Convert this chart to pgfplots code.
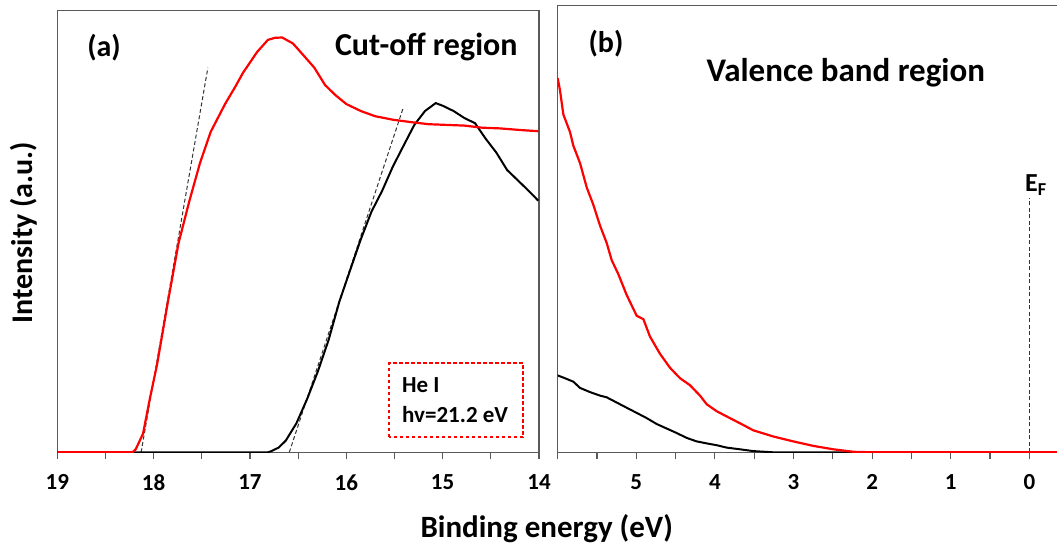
\documentclass[border=0pt]{standalone}
\usepackage{fontspec}
\setmainfont{Carlito}
\usepackage{pgfplots}
\pgfplotsset{compat=1.18}
\usepackage{pgfplotstable}

% (a) cut-off region, red sample
\pgfplotstableread{
E I
19.00 0
18.22 0
18.186 3
18.11 18.6
18.04 53.3
17.964 88
17.852 150.4
17.741 209.4
17.63 251
17.519 289.2
17.408 320.4
17.259 348.2
17.15 366
17.073 379.4
16.926 400.3
16.814 412.4
16.74 414.5
16.666 414.8
16.555 408.9
16.443 396.8
16.332 384.6
16.221 367.3
16.11 356.9
15.999 348.2
15.85 341.3
15.702 336.1
15.517 332.6
15.332 330.2
15.146 328.1
14.961 327.4
14.775 326.7
14.59 324.6
14.405 323.9
14.183 322.2
14.008 321.1
}\redA

% (a) cut-off region, black sample
\pgfplotstableread{
E I
19.00 0
16.814 0
16.778 1.2
16.703 4.7
16.629 11.6
16.518 29
16.407 53.3
16.295 81
16.184 112.3
16.073 150.4
15.962 181.7
15.85 212.9
15.739 240.6
15.628 261.5
15.517 285.7
15.406 306.6
15.294 327.4
15.183 341.3
15.072 349.2
14.998 346.5
14.887 341.3
14.775 334.3
14.664 329.1
14.553 313.5
14.442 299.6
14.331 282.3
14.219 271.9
14.108 261.5
14.008 251.7
}\blackA

% (b) valence band region, red sample
\pgfplotstableread{
E I
6.0 374.2
5.971 362.1
5.928 337.8
5.844 320.4
5.801 306.6
5.716 289.2
5.631 264.9
5.547 247.6
5.462 226.8
5.377 209.4
5.313 192.1
5.229 178.2
5.123 157.4
4.995 136.5
4.91 133.1
4.826 115.7
4.698 98.4
4.571 84.5
4.444 74.1
4.317 67.1
4.19 56.7
4.105 48.1
3.978 41.1
3.851 35.9
3.681 29
3.512 22
3.257 15.8
3.003 10.9
2.748 6.4
2.494 3
2.239 0.5
1.985 0
-0.6 0
}\redB

% (b) valence band region, black sample
\pgfplotstableread{
E I
6.0 76.9
5.886 73.4
5.801 70.6
5.716 64.4
5.589 60.2
5.462 56.7
5.377 55
5.25 49.8
5.123 44.6
4.995 39.4
4.868 34.2
4.741 28.3
4.614 23.8
4.487 19.3
4.359 14.4
4.232 10.9
4.105 8.9
3.978 7.1
3.851 4.7
3.681 3
3.512 1.2
3.257 0
1.9 0
}\blackB

\definecolor{spine}{RGB}{90,90,90}

\begin{document}
\begin{tikzpicture}[x=1pt,y=1pt]
\pgfplotsset{
  panel/.style={
    scale only axis, x dir=reverse, ymin=0, ytick=\empty,
    tick pos=bottom, tick align=outside,
    major tick length=7pt, minor tick length=7pt,
    axis line style={spine, line width=1.1pt},
    every tick/.style={spine, line width=1.1pt},
    tick label style={font=\fontsize{23}{23}\selectfont\bfseries},
    xticklabel style={yshift=-12pt},
    /pgf/number format/assume math mode=true,
  },
  tangent/.style={black!80, line width=1pt, dash pattern=on 4pt off 2.5pt},
}

\begin{axis}[panel, at={(57.3pt,91.7pt)}, anchor=south west,
  width=481.7pt, height=441.6pt,
  xmin=14, xmax=19, ymax=441.6,
  xtick={14,...,19}, minor xtick={14.5,15.5,...,18.5}]
\addplot[tangent] coordinates {(18.13,0) (17.437,384.6)};
\addplot[tangent] coordinates {(16.592,0) (15.406,345.4)};
\addplot[black, line width=2pt] table {\blackA};
\addplot[red, line width=2.2pt] table {\redA};
\end{axis}

\begin{axis}[panel, at={(557.7pt,91.7pt)}, anchor=south west,
  width=518.8pt, height=446.6pt,
  xmin=-0.6, xmax=6, ymax=446.6,
  xtick={0,...,6}, xticklabels={0,1,2,3,4,5,{}},
  minor xtick={-0.5,0.5,...,5.5}]
\addplot[black!80, line width=1pt, dash pattern=on 4pt off 2.5pt] coordinates {(0,0) (0,254.3)};
\addplot[black, line width=2pt] table {\blackB};
\addplot[red, line width=2.2pt] table {\redB};
\end{axis}

% panel texts
\node[font=\fontsize{30}{30}\selectfont\bfseries] at (104,496.3) {(a)};
\node[font=\fontsize{32}{32}\selectfont\bfseries, anchor=base east] at (521,488.5) {Cut-off region};
\node[font=\fontsize{30}{30}\selectfont\bfseries] at (606,500.6) {(b)};
\node[font=\fontsize{33}{33}\selectfont\bfseries, anchor=base] at (845.8,462.5) {Valence band region};
\node[font=\fontsize{26}{26}\selectfont\bfseries, anchor=base west, inner sep=0pt] at (1025,352) {E\textsubscript{F}};

% He I box
\draw[draw=red, line width=1.3pt, dash pattern=on 3.5pt off 2.5pt] (389,107) rectangle (523,181);
\node[font=\fontsize{23}{23}\selectfont\bfseries, anchor=base west, inner sep=0pt] at (402,152) {He I};
\node[font=\fontsize{23}{23}\selectfont\bfseries, anchor=base west, inner sep=0pt] at (402,122) {hv=21.2 eV};

% axis labels
\node[font=\fontsize{30}{30}\selectfont\bfseries, rotate=90, anchor=base] at (32.9,311.5) {Intensity (a.u.)};
\node[font=\fontsize{31}{31}\selectfont\bfseries, anchor=base] at (546.7,7) {Binding energy (eV)};

\pgfresetboundingbox
\path (0,0) rectangle (1057,544);
\end{tikzpicture}
\end{document}
